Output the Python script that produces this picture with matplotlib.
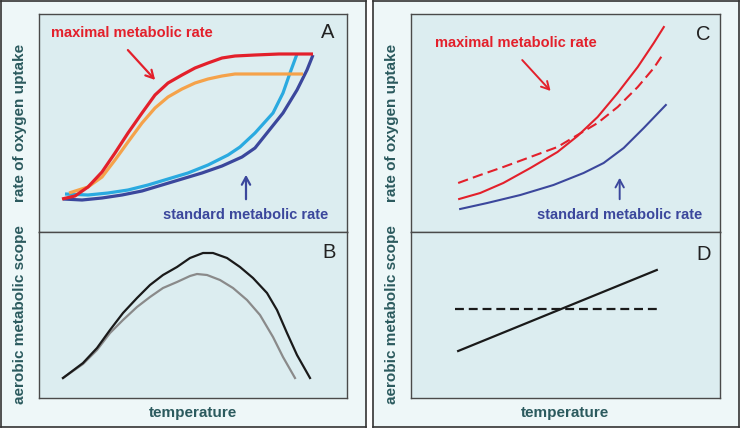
"""
Conceptual oxygen-uptake / aerobic-scope diagram (panels A-D).
Writes out.png
"""
import matplotlib
matplotlib.use('Agg')
import matplotlib.pyplot as plt

plt.rcParams['font.family'] = ['Liberation Sans', 'DejaVu Sans']

W, H = 741, 429

# --- panel A: rate of oxygen uptake vs temperature (arbitrary units)
a_max_x = [23, 36, 49, 63, 76, 89, 103, 116, 129, 143, 156, 169, 183, 196, 216, 240, 274]
a_max_y = [33, 36, 45, 60, 79, 99, 119, 137, 149, 157, 164, 169, 174, 176, 177, 178, 178]
a_max2_x = [30, 49, 63, 76, 89, 103, 116, 129, 143, 156, 169, 183, 196, 216, 264]
a_max2_y = [39, 45, 55, 72, 90, 109, 124, 135, 143, 149, 153, 156, 158, 158, 158]
a_std2_x = [26, 49, 69, 89, 109, 129, 149, 169, 189, 201, 216, 234, 244, 251, 258]
a_std2_y = [38, 37, 39, 42, 47, 53, 59, 67, 77, 85, 99, 119, 139, 159, 178]
a_std_x = [24, 43, 63, 83, 103, 123, 143, 163, 183, 203, 216, 228, 244, 258, 268, 274]
a_std_y = [33, 32, 34, 37, 41, 47, 53, 59, 66, 75, 84, 99, 119, 142, 162, 177]

# --- panel B: aerobic scope
b_scope_x = [24, 44, 58, 71, 84, 98, 111, 124, 138, 151, 164, 174, 188, 201,
             214, 228, 238, 248, 258, 271]
b_scope_y = [20, 35, 50, 68, 85, 100, 113, 123, 131, 140, 145, 145, 140, 131,
             120, 105, 88, 65, 43, 20]
b_scope2_x = [24, 44, 58, 71, 84, 98, 111, 124, 138, 151, 158, 168, 181, 194,
              208, 221, 234, 244, 256]
b_scope2_y = [20, 34, 48, 65, 78, 91, 101, 110, 116, 122, 124, 123, 118, 110,
              98, 83, 61, 41, 20]

# --- panel C
c_max_x = [48, 69, 92, 119, 146, 166, 186, 206, 226, 242, 252]
c_max_y = [33, 39, 49, 64, 80, 96, 115, 139, 165, 189, 205]
c_max2_x = [47, 69, 92, 119, 146, 166, 186, 206, 226, 242, 252]
c_max2_y = [49, 57, 65, 75, 85, 97, 109, 125, 145, 164, 179]
c_std_x = [49, 76, 109, 142, 172, 192, 212, 232, 254]
c_std_y = [23, 29, 37, 47, 59, 69, 84, 104, 127]

# --- panel D
d_scope_x = [47, 245]
d_scope_y = [47, 128]
d_scope2_x = [44, 246]
d_scope2_y = [89, 89]

RED = '#e3202b'
ORANGE = '#f5a24a'
LIGHTBLUE = '#2aaae0'
DARKBLUE = '#3b479c'
TEAL = '#2b5a5e'
OUTER_BG = '#eef7f8'
INNER_BG = '#dcedf0'
ARROW = '->, head_length=0.55, head_width=0.3'


def px_axes(fig, x0, y0, x1, y1, **kw):
    """Add axes from pixel box (top-left origin)."""
    return fig.add_axes([x0 / W, 1 - y1 / H, (x1 - x0) / W, (y1 - y0) / H], **kw)


def style_inner(ax, xmax, ymax):
    ax.set_facecolor(INNER_BG)
    ax.set_xlim(0, xmax)
    ax.set_ylim(0, ymax)
    ax.set_xticks([])
    ax.set_yticks([])
    for s in ax.spines.values():
        s.set_color('#4a4a4a')
        s.set_linewidth(1.0)


def panel_letter(ax, x, y, s):
    ax.text(x, y, s, fontsize=14.5, color='#222222', ha='center', va='center')


fig = plt.figure(figsize=(W / 100, H / 100), dpi=100)
fig.patch.set_facecolor('white')

# outer boxes
for x0, x1 in [(1, 366), (373, 739)]:
    bg = px_axes(fig, x0, 1, x1, 427)
    bg.set_facecolor(OUTER_BG)
    bg.set_xticks([])
    bg.set_yticks([])
    for s in bg.spines.values():
        s.set_color('#333333')
        s.set_linewidth(1.2)

axA = px_axes(fig, 39, 14, 347, 232)
axB = px_axes(fig, 39, 232, 347, 398)
axC = px_axes(fig, 411, 14, 720, 232)
axD = px_axes(fig, 411, 232, 720, 398)
for ax in (axA, axC):
    style_inner(ax, 308, 218)
for ax in (axB, axD):
    style_inner(ax, 308, 166)

# A
kw = dict(lw=2.3, solid_capstyle='butt', solid_joinstyle='round')
axA.plot(a_std_x, a_std_y, color=DARKBLUE, **kw)
axA.plot(a_std2_x, a_std2_y, color=LIGHTBLUE, **kw)
axA.plot(a_max2_x, a_max2_y, color=ORANGE, **kw)
axA.plot(a_max_x, a_max_y, color=RED, **kw)
axA.text(12, 199, 'maximal metabolic rate', color=RED, fontsize=10.5,
         fontweight='bold', va='center', ha='left')
axA.annotate('', xy=(118, 150), xytext=(87, 184),
             arrowprops=dict(arrowstyle=ARROW, color=RED, lw=1.6))
axA.text(124, 17, 'standard metabolic rate', color=DARKBLUE, fontsize=10.5,
         fontweight='bold', va='center', ha='left')
axA.annotate('', xy=(207, 60), xytext=(207, 30),
             arrowprops=dict(arrowstyle=ARROW, color=DARKBLUE, lw=1.6))
panel_letter(axA, 289, 199, 'A')

# B
axB.plot(b_scope2_x, b_scope2_y, color='#8a8a8a', lw=1.6, solid_joinstyle='round')
axB.plot(b_scope_x, b_scope_y, color='#1a1a1a', lw=1.6, solid_joinstyle='round')
panel_letter(axB, 290, 145, 'B')

# C
axC.plot(c_std_x, c_std_y, color=DARKBLUE, lw=1.5)
axC.plot(c_max2_x, c_max2_y, color=RED, lw=1.5, ls=(0, (5, 2.5)))
axC.plot(c_max_x, c_max_y, color=RED, lw=1.5)
axC.text(24, 189, 'maximal metabolic rate', color=RED, fontsize=10.5,
         fontweight='bold', va='center', ha='left')
axC.annotate('', xy=(141, 139), xytext=(109, 174),
             arrowprops=dict(arrowstyle=ARROW, color=RED, lw=1.4))
axC.text(126, 17, 'standard metabolic rate', color=DARKBLUE, fontsize=10.5,
         fontweight='bold', va='center', ha='left')
axC.annotate('', xy=(208, 57), xytext=(208, 30),
             arrowprops=dict(arrowstyle=ARROW, color=DARKBLUE, lw=1.4))
panel_letter(axC, 291, 198, 'C')

# D
axD.plot(d_scope_x, d_scope_y, color='#1a1a1a', lw=1.6)
axD.plot(d_scope2_x, d_scope2_y, color='#1a1a1a', lw=1.6, ls=(0, (4, 2.2)))
panel_letter(axD, 292, 144, 'D')

# axis labels
for x_lab, x_mid in [(20, 193), (392, 565)]:
    fig.text(x_lab / W, 1 - 123 / H, 'rate of oxygen uptake', rotation=90,
             color=TEAL, fontsize=11, fontweight='bold', ha='center', va='center')
    fig.text(x_lab / W, 1 - 315 / H, 'aerobic metabolic scope', rotation=90,
             color=TEAL, fontsize=11, fontweight='bold', ha='center', va='center')
    fig.text(x_mid / W, 1 - 413 / H, 'temperature', color=TEAL, fontsize=11,
             fontweight='bold', ha='center', va='center')

fig.savefig('out.png', dpi=100)
